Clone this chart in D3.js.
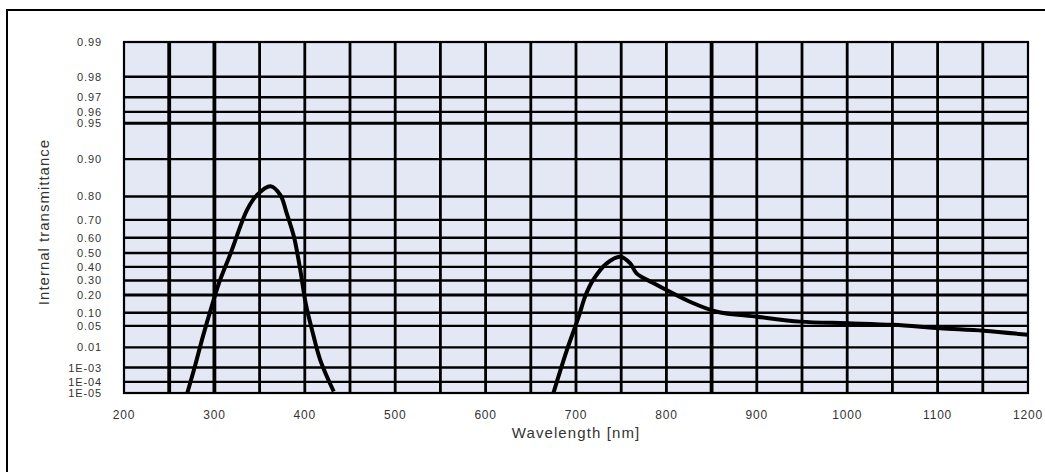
<!DOCTYPE html>
<html>
<head>
<meta charset="utf-8">
<script src="https://cdn.jsdelivr.net/npm/d3@7"></script>
<style>
  body { margin: 0; background: #fff; }
  svg { display: block; font-family: "Liberation Sans", Arial, sans-serif; }
</style>
</head>
<body>
<div id="app"></div>
<script>
// wavelength axis
const xTicks = [200, 300, 400, 500, 600, 700, 800, 900, 1000, 1100, 1200];
const xGrid = [250, 300, 350, 400, 450, 500, 550, 600, 650, 700, 750, 800, 850, 900, 950, 1000, 1050, 1100, 1150];
const xGridBold = [250, 300, 850];

// transmittance axis (double-log: log of optical density)
const yTicks = [0.99, 0.98, 0.97, 0.96, 0.95, 0.90, 0.80, 0.70, 0.60, 0.50, 0.40, 0.30, 0.20, 0.10, 0.05, 0.01, 1e-3, 1e-4, 1e-5];
const yLabels = ['0.99', '0.98', '0.97', '0.96', '0.95', '0.90', '0.80', '0.70', '0.60', '0.50', '0.40', '0.30', '0.20', '0.10', '0.05', '0.01', '1E-03', '1E-04', '1E-05'];
const yGridBold = [0.95, 0.20];

// UV pass band
const uvWavelength = [270, 279, 287, 298, 305, 318, 336, 347, 362, 373, 380, 388, 395, 401, 408, 417, 432];
const uvTrans = [1e-5, 0.0015, 0.023, 0.149, 0.28, 0.498, 0.746, 0.805, 0.834, 0.805, 0.731, 0.606, 0.377, 0.149, 0.039, 0.0027, 1.4e-5];

// IR pass band
const irWavelength = [675, 690, 703, 710, 719, 734, 749, 760, 767, 786, 800, 826, 856, 900, 948, 1000, 1051, 1103, 1151, 1200];
const irTrans = [1e-5, 0.0079, 0.083, 0.189, 0.304, 0.426, 0.474, 0.426, 0.352, 0.28, 0.233, 0.158, 0.105, 0.083, 0.064, 0.0586, 0.0532, 0.0434, 0.037, 0.0277];

const W = 1045, H = 472;
const plotLeft = 124, plotTop = 42, plotRight = 1028, plotBottom = 393;

const svg = d3.select('#app').append('svg')
  .attr('width', W)
  .attr('height', H);

// outer frame (cut off at right and bottom)
svg.append('rect')
  .attr('x', 7).attr('y', 10)
  .attr('width', 1100).attr('height', 520)
  .attr('fill', '#fff')
  .attr('stroke', '#000')
  .attr('stroke-width', 2);

const x = d3.scaleLinear().domain([200, 1200]).range([plotLeft, plotRight]);
const od = t => -Math.log10(t);
const yScale = d3.scaleLog().domain([od(0.99), od(1e-5)]).range([plotTop, plotBottom]);
const y = t => yScale(od(t));

svg.append('rect')
  .attr('x', plotLeft).attr('y', plotTop)
  .attr('width', plotRight - plotLeft).attr('height', plotBottom - plotTop)
  .attr('fill', '#e4e7f4');

// horizontal grid
svg.selectAll('.hgrid')
  .data(yTicks.slice(1, -1))
  .enter()
  .append('line')
    .attr('x1', plotLeft).attr('x2', plotRight)
    .attr('y1', d => y(d)).attr('y2', d => y(d))
    .attr('stroke', '#000')
    .attr('stroke-width', d => yGridBold.includes(d) ? 3 : 2.4);

// vertical grid
svg.selectAll('.vgrid')
  .data(xGrid)
  .enter()
  .append('line')
    .attr('x1', d => x(d)).attr('x2', d => x(d))
    .attr('y1', plotTop).attr('y2', plotBottom)
    .attr('stroke', '#000')
    .attr('stroke-width', d => xGridBold.includes(d) ? 3.8 : 2.8);

svg.append('rect')
  .attr('x', plotLeft).attr('y', plotTop)
  .attr('width', plotRight - plotLeft).attr('height', plotBottom - plotTop)
  .attr('fill', 'none')
  .attr('stroke', '#000')
  .attr('stroke-width', 2.2);

svg.append('clipPath').attr('id', 'plot')
  .append('rect')
    .attr('x', plotLeft).attr('y', plotTop)
    .attr('width', plotRight - plotLeft).attr('height', plotBottom - plotTop);

const line = d3.line()
  .x(d => x(d[0]))
  .y(d => y(d[1]))
  .curve(d3.curveCatmullRom.alpha(0.5));

const bands = [
  d3.zip(uvWavelength, uvTrans),
  d3.zip(irWavelength, irTrans)
];

svg.selectAll('.curve')
  .data(bands)
  .enter()
  .append('path')
    .attr('d', line)
    .attr('clip-path', 'url(#plot)')
    .attr('fill', 'none')
    .attr('stroke', '#000')
    .attr('stroke-width', 4)
    .attr('stroke-linejoin', 'round');

// y tick labels
svg.selectAll('.ylab')
  .data(yTicks)
  .enter()
  .append('text')
    .attr('x', 102)
    .attr('y', d => y(d))
    .attr('dy', '0.36em')
    .attr('text-anchor', 'end')
    .attr('font-size', 11)
    .attr('letter-spacing', 0.9)
    .attr('fill', '#333')
    .text((d, i) => yLabels[i]);

// x tick labels
svg.selectAll('.xlab')
  .data(xTicks)
  .enter()
  .append('text')
    .attr('x', d => x(d))
    .attr('y', 419)
    .attr('text-anchor', 'middle')
    .attr('font-size', 12)
    .attr('letter-spacing', 0.8)
    .attr('fill', '#333')
    .text(d => d);

svg.append('text')
  .attr('x', (plotLeft + plotRight) / 2)
  .attr('y', 438)
  .attr('text-anchor', 'middle')
  .attr('font-size', 15)
  .attr('letter-spacing', 1.1)
  .attr('fill', '#333')
  .text('Wavelength [nm]');

svg.append('text')
  .attr('transform', 'translate(49,222) rotate(-90)')
  .attr('text-anchor', 'middle')
  .attr('font-size', 15)
  .attr('letter-spacing', 1)
  .attr('fill', '#333')
  .text('Internal transmittance');
</script>
</body>
</html>
